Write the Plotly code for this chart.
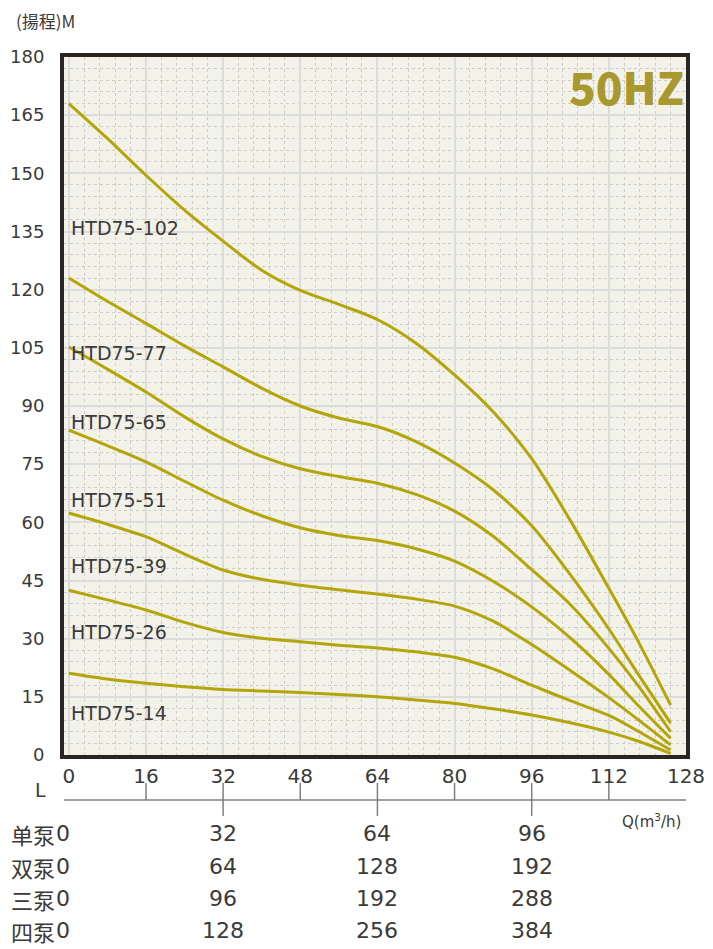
import plotly.graph_objects as go

# flow (m3/h) where the head values below were read
flow = [0, 8, 16, 24, 32, 40, 48, 56, 64, 72, 80, 88, 96, 104, 112, 118, 124.8]

# head (m) for each pump model
head_102 = [168, 159, 149.5, 140.5, 132.5, 125, 119.8, 116.2, 112.3, 106.2, 98, 88.5, 76.4, 60.5, 43, 29.5, 12.9]
head_77 = [123, 117, 111.3, 105.5, 100.1, 94.6, 90, 86.9, 84.7, 80.8, 75.3, 68.4, 59.1, 46.5, 32.5, 21, 8.2]
head_65 = [105.2, 99.5, 93.6, 87.2, 81.5, 77, 73.8, 71.8, 70.1, 67.2, 62.9, 56.4, 47.8, 38.8, 27.5, 18, 6.0]
head_51 = [83.8, 79.8, 75.6, 70.6, 65.7, 61.7, 58.6, 56.6, 55.3, 53.2, 50, 44.8, 38.2, 30.2, 20.8, 12.9, 4.3]
head_39 = [62.4, 59.5, 56.3, 51.8, 47.7, 45.3, 43.8, 42.6, 41.5, 40.2, 38.4, 34.5, 28.5, 21.8, 14.8, 9.2, 2.6]
head_26 = [42.5, 40, 37.4, 34.2, 31.6, 30.1, 29.2, 28.3, 27.6, 26.6, 25.2, 22.2, 18, 14, 10.2, 6.2, 1.3]
head_14 = [21.1, 19.6, 18.5, 17.6, 16.9, 16.5, 16.1, 15.6, 15.0, 14.2, 13.3, 11.9, 10.3, 8.3, 5.9, 3.6, 0.4]

models = ["HTD75-102", "HTD75-77", "HTD75-65", "HTD75-51", "HTD75-39", "HTD75-26", "HTD75-14"]
heads = [head_102, head_77, head_65, head_51, head_39, head_26, head_14]
label_y = [136, 103.6, 85.9, 65.7, 48.8, 31.8, 10.9]

# secondary flow scale (L) and the pump count table
l_ticks = [0, 16, 32, 48, 64, 80, 96, 112, 128]
table_pos = [0, 32, 64, 96]
pump_rows = ["单泵", "双泵", "三泵", "四泵"]
row_values = [[0, 32, 64, 96], [0, 64, 128, 192], [0, 96, 192, 288], [0, 128, 256, 384]]

CURVE = "#b4a50a"
TEXT = "#3a3a3a"
FONT = "DejaVu Sans"
CJK = "Noto Sans CJK SC"

fig = go.Figure()
for name, h in zip(models, heads):
    fig.add_trace(go.Scatter(x=flow, y=h, mode="lines", name=name,
                             line=dict(color=CURVE, width=3, shape="spline", smoothing=0.8)))

ann = []
# curve labels
for name, y in zip(models, label_y):
    ann.append(dict(x=0, y=y, xref="x", yref="y", text=name, showarrow=False,
                    xanchor="left", yanchor="middle", font=dict(family=FONT, size=19, color=TEXT)))

ann.append(dict(x=0.905, y=0.958, xref="paper", yref="paper", text="50HZ", showarrow=False,
                xanchor="center", yanchor="middle",
                font=dict(family=CJK, size=44, color="#a8982e", weight=900)))
ann.append(dict(x=-0.08, y=1.052, xref="paper", yref="paper", text="(揚程)M", showarrow=False,
                xanchor="left", yanchor="middle", font=dict(family=CJK, size=17, color=TEXT)))
ann.append(dict(x=-0.037, y=-0.05, xref="paper", yref="paper", text="L", showarrow=False,
                xanchor="center", yanchor="middle", font=dict(family=FONT, size=19, color=TEXT)))
ann.append(dict(x=0.945, y=-0.094, xref="paper", yref="paper", text="Q(m<sup>3</sup>/h)", showarrow=False,
                xanchor="center", yanchor="middle", font=dict(family=FONT, size=15, color=TEXT)))

row_y = [-0.113, -0.160, -0.206, -0.252]
for label, vals, ry in zip(pump_rows, row_values, row_y):
    ann.append(dict(x=-0.012, y=ry, xref="paper", yref="paper", text=label, showarrow=False,
                    xanchor="right", yanchor="middle", font=dict(family=CJK, size=22, color=TEXT)))
    for pos, v in zip(table_pos, vals):
        ann.append(dict(x=pos, y=ry, xref="x", yref="paper", text=str(v), showarrow=False,
                        xanchor="center", yanchor="middle", xshift=-6 if pos == 0 else 0,
                        font=dict(family=FONT, size=22, color=TEXT)))

# L scale drawn under the plot
shapes = [dict(type="line", xref="x", yref="paper", x0=l_ticks[0] - 1.2, x1=l_ticks[-1] + 1.2,
               y0=-0.0645, y1=-0.0645, line=dict(color="#808080", width=1.5))]
for t in l_ticks:
    low = -0.0874 if t in table_pos else -0.0645
    xt = t - 1.2 if t == 0 else (t + 1.2 if t == 128 else t)
    shapes.append(dict(type="line", xref="x", yref="paper", x0=xt, x1=xt, y0=-0.040, y1=low,
                       line=dict(color="#808080", width=1.5)))

fig.update_layout(
    width=713, height=949,
    margin=dict(l=56, r=35, t=49, b=202),
    paper_bgcolor="white", plot_bgcolor="#f3f2e8",
    showlegend=False,
    annotations=ann, shapes=shapes,
    xaxis=dict(range=[-1.0, 128], tickmode="array", tickvals=l_ticks, ticks="", automargin=False,
               tickfont=dict(family=FONT, size=20, color=TEXT), ticklabelstandoff=0,
               showgrid=True, gridcolor="#dcdcdc", gridwidth=1.5,
               minor=dict(dtick=3.2, tick0=0, showgrid=True, gridcolor="#cdcdcd", griddash="3px,3px", gridwidth=1),
               showline=True, mirror=True, linecolor="#2b2522", linewidth=4, zeroline=False),
    yaxis=dict(range=[0, 180], dtick=15, tick0=0, ticks="", automargin=False,
               tickfont=dict(family=FONT, size=18, color=TEXT), ticklabelstandoff=12,
               showgrid=True, gridcolor="#dcdcdc", gridwidth=1.5,
               minor=dict(dtick=3, tick0=0, showgrid=True, gridcolor="#cdcdcd", griddash="3px,3px", gridwidth=1),
               showline=True, mirror=True, linecolor="#2b2522", linewidth=4, zeroline=False),
)

fig.write_html("out.html")
